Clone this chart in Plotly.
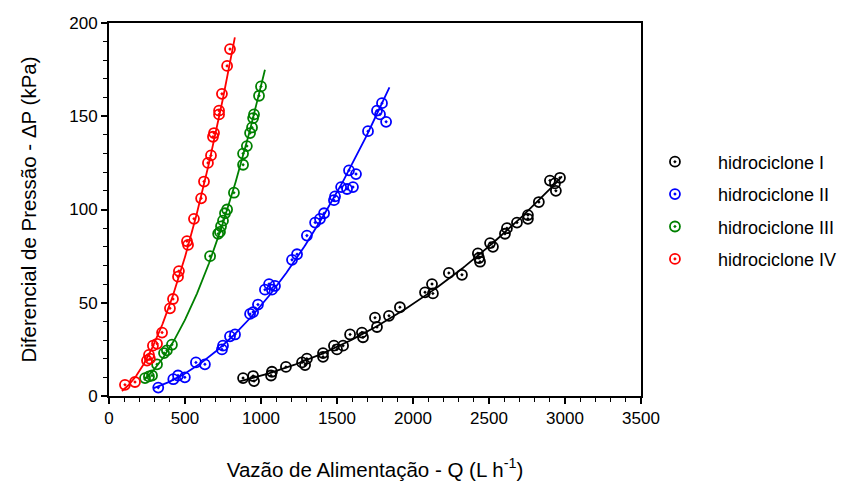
import numpy as np
import plotly.graph_objects as go

# Feed flow rate Q (L/h) and pressure drop ΔP (kPa) for each hydrocyclone
q_I = [882, 948, 954, 1066, 1072, 1164, 1270, 1290, 1302, 1408, 1408, 1480, 1500, 1540,
       1586, 1664, 1671, 1750, 1763, 1842, 1914, 2079, 2125, 2131, 2236, 2322, 2427,
       2434, 2441, 2507, 2526, 2605, 2618, 2684, 2756, 2756, 2828, 2901, 2934, 2940, 2967]
dp_I = [9.6, 10.7, 8.0, 11.0, 13.0, 15.6, 18.0, 16.6, 20.0, 23.0, 21.0, 27.0, 25.0, 27.0,
        33.0, 34.0, 31.5, 42.0, 37.0, 43.0, 47.6, 55.6, 60.0, 55.0, 66.0, 65.0, 76.5,
        74.0, 72.0, 82.0, 80.0, 87.0, 90.0, 93.0, 97.0, 95.0, 104.0, 115.5, 114.0, 110.0, 117.0]

q_II = [324, 423, 454, 499, 572, 631, 743, 750, 796, 829, 928, 948, 980, 1026, 1053,
        1072, 1092, 1204, 1237, 1302, 1356, 1388, 1415, 1480, 1487, 1527, 1566, 1579,
        1605, 1625, 1704, 1763, 1783, 1796, 1823]
dp_II = [4.5, 9.0, 11.0, 10.0, 18.0, 17.0, 25.0, 27.0, 32.0, 33.0, 44.0, 45.0, 49.0, 57.0, 60.0,
         57.0, 59.0, 73.0, 76.0, 86.0, 93.0, 95.0, 98.0, 105.0, 107.0, 112.0, 111.0, 121.0,
         112.0, 119.0, 142.0, 153.0, 151.0, 157.0, 147.0]

q_III = [237, 263, 283, 316, 362, 381, 414, 665, 718, 730, 737, 750, 763, 777, 822,
         882, 882, 907, 928, 941, 948, 954, 987, 1000]
dp_III = [9.6, 10.5, 11.0, 17.0, 23.0, 24.5, 27.5, 75.0, 87.0, 88.0, 91.0, 94.0, 98.0, 100.0, 109.0,
          124.0, 130.0, 134.0, 141.0, 144.0, 149.0, 151.0, 161.0, 166.0]

q_IV = [105, 171, 250, 263, 269, 289, 316, 349, 401, 421, 454, 460, 513, 520, 559,
        606, 625, 651, 671, 684, 691, 724, 724, 743, 777, 796]
dp_IV = [6.0, 7.5, 19.0, 22.0, 20.0, 27.0, 28.0, 34.0, 47.0, 52.0, 64.0, 67.0, 83.0, 81.0, 95.0,
         106.0, 115.0, 125.0, 129.0, 139.0, 141.0, 151.0, 153.0, 162.0, 177.0, 186.0]

# Q span covered by each fitted curve
fit_span_I = [860, 2980]
fit_span_II = [295, 1845]
fit_span_III = [230, 1026]
fit_span_IV = [85, 828]

names = ["hidrociclone I", "hidrociclone II", "hidrociclone III", "hidrociclone IV"]
colors = ["#000000", "#0000ff", "#008000", "#ff0000"]
series = [(q_I, dp_I, fit_span_I), (q_II, dp_II, fit_span_II),
          (q_III, dp_III, fit_span_III), (q_IV, dp_IV, fit_span_IV)]


def power_fit(q, dp):
    """ΔP = k·Q^n, fitted as a straight line in log-log space."""
    n, lnk = np.polyfit(np.log(q), np.log(dp), 1)
    return np.exp(lnk), n


fig = go.Figure()

for (q, dp, span), name, color in zip(series, names, colors):
    k, n = power_fit(q, dp)
    qq = np.linspace(span[0], span[1], 200)
    fig.add_trace(go.Scatter(
        x=qq, y=k * qq ** n, mode="lines",
        line=dict(color=color, width=1.8), showlegend=False, hoverinfo="skip"))

for (q, dp, span), name, color in zip(series, names, colors):
    fig.add_trace(go.Scatter(
        x=q, y=dp, mode="markers", name=name, legendgroup=name,
        marker=dict(symbol="circle-open-dot", size=10, color=color,
                    line=dict(color=color, width=1.8))))

font_family = "Liberation Sans, Arial, sans-serif"

fig.update_layout(
    width=848, height=487,
    margin=dict(l=109, r=207, t=23, b=91, autoexpand=False),
    plot_bgcolor="white", paper_bgcolor="white",
    font=dict(family=font_family, color="#000000", size=17),
    legend=dict(x=0.983, y=0.677, xanchor="left", yanchor="top",
                font=dict(size=18, color="#000000"),
                tracegroupgap=6, itemwidth=76, bgcolor="rgba(0,0,0,0)"),
    xaxis=dict(
        range=[0, 3500], tickmode="linear", tick0=0, dtick=500, automargin=False,
        ticks="outside", ticklen=6, tickwidth=1.5, tickcolor="black",
        showline=True, linecolor="black", linewidth=2, mirror=True,
        showgrid=False, zeroline=False,
        tickfont=dict(size=17, color="#000000"),
        minor=dict(dtick=100, ticks="outside", ticklen=4, tickwidth=1.2, tickcolor="black"),
        title=dict(text="Vazão de Alimentação - Q (L h<sup>-1</sup>)",
                   font=dict(size=20.5, color="#000000"), standoff=35),
    ),
    yaxis=dict(
        range=[0, 200], tickmode="linear", tick0=0, dtick=50, automargin=False,
        ticks="outside", ticklen=6, tickwidth=1.5, tickcolor="black",
        showline=True, linecolor="black", linewidth=2, mirror=True,
        showgrid=False, zeroline=False,
        tickfont=dict(size=17, color="#000000"),
        minor=dict(dtick=10, ticks="outside", ticklen=4, tickwidth=1.2, tickcolor="black"),
        title=dict(text="Diferencial de Pressão - ΔP (kPa)",
                   font=dict(size=20.5, color="#000000"), standoff=27),
    ),
)

fig.write_html("out.html")
